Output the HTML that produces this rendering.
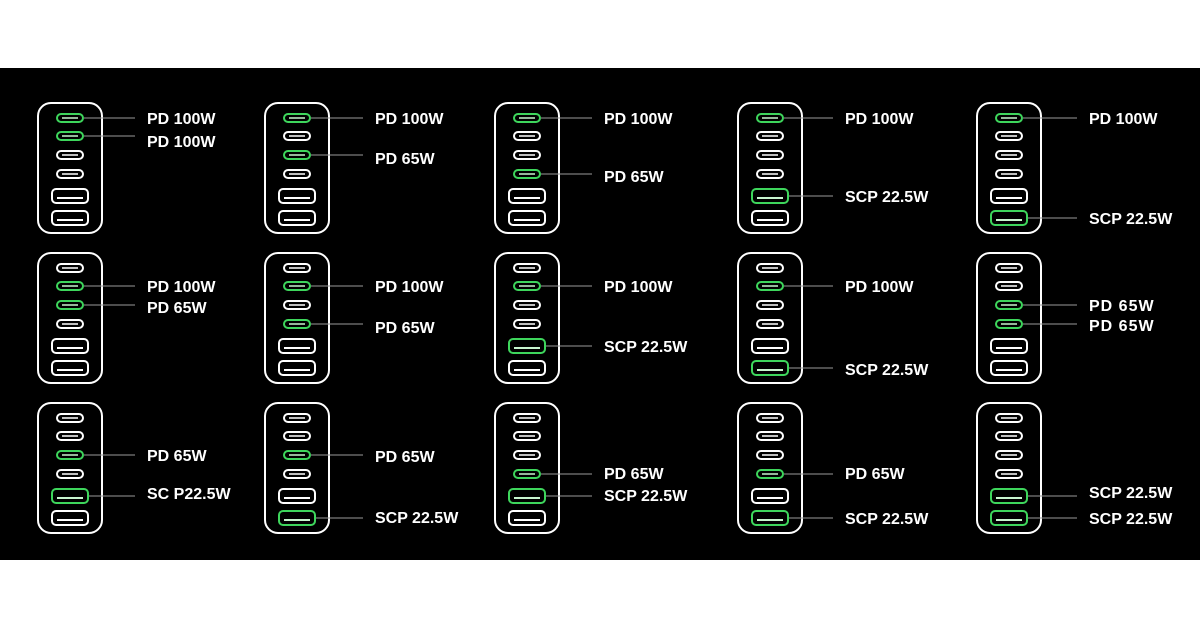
<!DOCTYPE html>
<html><head><meta charset="utf-8"><style>
html,body{margin:0;padding:0;background:#fff;width:1200px;height:630px;overflow:hidden}
svg{display:block}
text{font-family:"Liberation Sans",sans-serif;font-weight:bold;font-size:16px;fill:#fff}
</style></head><body>
<svg id="s" width="1200" height="630" xmlns="http://www.w3.org/2000/svg">
<rect x="0" y="68" width="1200" height="492" fill="#000"/>
</svg>
<script>
var s=document.getElementById('s');
var cols=[38,265,495,738,977], lx=[147,375,604,845,1089], tops=[103,253,403];
var off=[15,33,52,71,93,115];
var cells=[
[[0,118,'PD 100W'],[1,141,'PD 100W']],
[[0,118,'PD 100W'],[2,158,'PD 65W']],
[[0,118,'PD 100W'],[3,176,'PD 65W']],
[[0,118,'PD 100W'],[4,196,'SCP 22.5W']],
[[0,118,'PD 100W'],[5,218,'SCP 22.5W']],
[[1,286,'PD 100W'],[2,307,'PD 65W']],
[[1,286,'PD 100W'],[3,327,'PD 65W']],
[[1,286,'PD 100W'],[4,346,'SCP 22.5W']],
[[1,286,'PD 100W'],[5,369,'SCP 22.5W']],
[[2,305,'PD 65W',1],[3,325,'PD 65W',1]],
[[2,455,'PD 65W'],[4,493,'SC P22.5W']],
[[2,456,'PD 65W'],[5,517,'SCP 22.5W']],
[[3,473,'PD 65W'],[4,495,'SCP 22.5W']],
[[3,473,'PD 65W'],[5,518,'SCP 22.5W']],
[[4,492,'SCP 22.5W'],[5,518,'SCP 22.5W']]
];
var h='';
for(var r=0;r<3;r++)for(var c=0;c<5;c++){
 var L=cols[c],T=tops[r],cell=cells[r*5+c],g={};
 cell.forEach(function(e){g[e[0]]=e;});
 h+='<rect x="'+L+'" y="'+T+'" width="64" height="130" rx="13" fill="none" stroke="#fff" stroke-width="2"/>';
 for(var i=0;i<6;i++){
  var y=T+off[i],cx=L+32,w=i<4?26:36,ht=i<4?8:14,green=g[i]!==undefined;
  var col=green?'#3ed65c':'#fff';
  h+='<rect x="'+(cx-w/2)+'" y="'+(y-ht/2)+'" width="'+w+'" height="'+ht+'" rx="'+(i<4?4:4)+'" fill="none" stroke="'+col+'" stroke-width="2"/>';
  h+='<line x1="'+(cx-w/2+5)+'" y1="'+(y+(i<4?0:2))+'" x2="'+(cx+w/2-5)+'" y2="'+(y+(i<4?0:2))+'" stroke="'+(green?'#c8f5cf':'#fff')+'" stroke-width="'+(i<4?1.5:2)+'"/>';
  if(green){
   var e=g[i];
   h+='<line x1="'+(cx+w/2+1)+'" y1="'+y+'" x2="'+(lx[c]-12)+'" y2="'+y+'" stroke="#9a9a9a" stroke-width="1"/>';
   h+='<text x="'+lx[c]+'" y="'+(e[1]+6)+'"'+(e[3]?' letter-spacing="1"':'')+'>'+e[2]+'</text>';
  }
 }
}
s.insertAdjacentHTML('beforeend',h);
</script>
</body></html>
